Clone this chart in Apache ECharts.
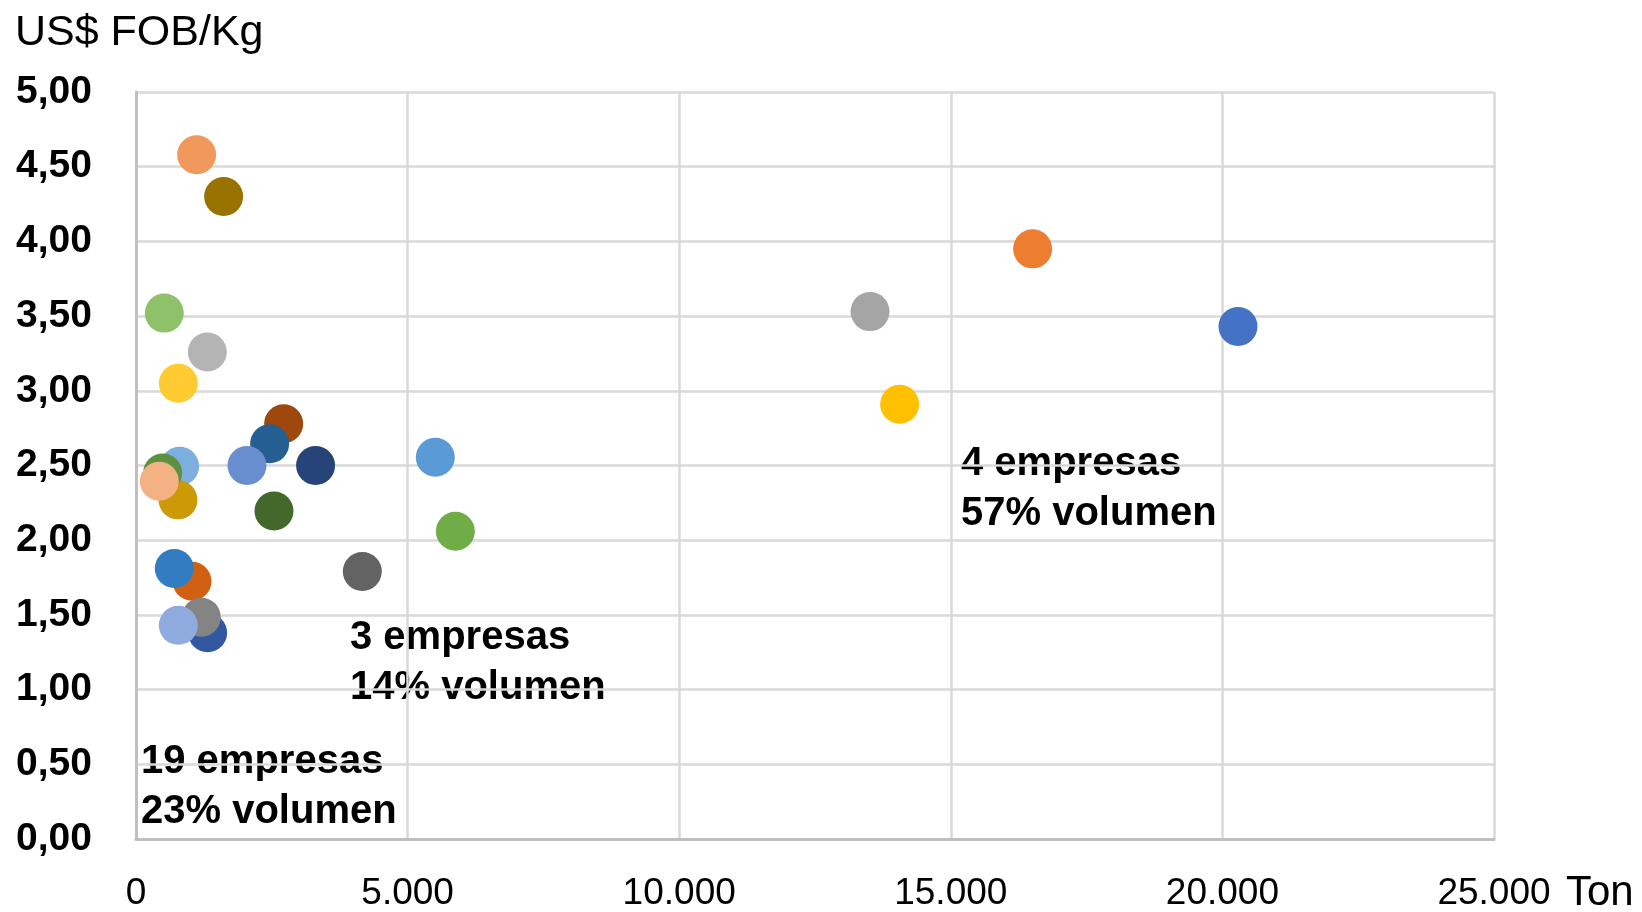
<!DOCTYPE html>
<html>
<head>
<meta charset="utf-8">
<script src="https://cdn.jsdelivr.net/npm/echarts@6/dist/echarts.min.js"></script>
<style>
html,body{margin:0;padding:0;background:#fff;}
#c{width:1642px;height:912px;}
</style>
</head>
<body>
<div id="c"></div>
<script>
// Volume (Ton) and price (US$ FOB/Kg) per company
const tonValues = [1116, 1613, 521, 1313, 779, 2718, 2460, 803, 773, 490, 429, 2043, 3306, 2540, 5510, 5879, 1031, 705, 4166, 1318, 1202, 779, 16506, 13513, 20287, 14058];
const priceValues = [4.58, 4.30, 3.52, 3.26, 3.05, 2.78, 2.645, 2.495, 2.27, 2.45, 2.395, 2.50, 2.50, 2.195, 2.555, 2.06, 1.725, 1.81, 1.79, 1.38, 1.485, 1.43, 3.95, 3.53, 3.43, 2.91];
const pointColors = ['#F1995D', '#997300', '#8FC16B', '#B4B4B4', '#FFCA32', '#9E480E', '#255E91', '#7CAFDD', '#CC9A05', '#5E913F', '#F4B183', '#698ED0', '#264478', '#43682B', '#5B9BD5', '#70AD47', '#D26012', '#327DC2', '#636363', '#3258A2', '#848484', '#8FAADC', '#ED7D31', '#A5A5A5', '#4472C4', '#FFC000'];
const annotations = [
  ['4 empresas', '57% volumen'],
  ['3 empresas', '14% volumen'],
  ['19 empresas', '23% volumen']
];
const yAxisTitle = 'US$ FOB/Kg';
const xAxisTitle = 'Ton';

const chart = echarts.init(document.getElementById('c'));
const font = '"Liberation Sans", Arial, sans-serif';
const data = tonValues.map((x, i) => ({
  value: [x, priceValues[i]],
  itemStyle: { color: pointColors[i] }
}));

const annPos = [[961, 489], [350, 663], [141, 787]];

chart.setOption({
  animation: false,
  grid: { left: 136, right: 148, top: 92, bottom: 67, containLabel: false },
  xAxis: {
    type: 'value', min: 0, max: 25000, interval: 5000,
    axisLine: { show: true, lineStyle: { color: '#BFBFBF', width: 3 } },
    axisTick: { show: false },
    splitLine: { show: true, lineStyle: { color: '#D9D9D9', width: 2.5 } },
    axisLabel: {
      color: '#000', fontFamily: font, fontSize: 37, lineHeight: 37, margin: 36,
      formatter: v => v === 0 ? '0' : v.toLocaleString('de-DE')
    }
  },
  yAxis: {
    type: 'value', min: 0, max: 5, interval: 0.5,
    axisLine: { show: true, lineStyle: { color: '#BFBFBF', width: 3 } },
    axisTick: { show: false },
    splitLine: { show: true, lineStyle: { color: '#D9D9D9', width: 2.5 } },
    axisLabel: {
      color: '#000', fontFamily: font, fontSize: 39, fontWeight: 'bold', margin: 44,
      formatter: v => v.toFixed(2).replace('.', ',')
    }
  },
  series: [{
    type: 'scatter',
    symbol: 'circle',
    symbolSize: 39,
    data: data,
    itemStyle: { opacity: 1 },
    emphasis: { disabled: true }
  }],
  graphic: [
    { type: 'text', x: 15, y: 33, style: { text: yAxisTitle, fontFamily: font, fontSize: 43, fill: '#000', verticalAlign: 'middle' } },
    { type: 'text', x: 1566, y: 893, style: { text: xAxisTitle, fontFamily: font, fontSize: 42, fill: '#000', verticalAlign: 'middle' } }
  ].concat(annotations.map((a, i) => ({
    type: 'text', x: annPos[i][0], y: annPos[i][1],
    style: { text: a.join('\n'), fontFamily: font, fontSize: 40, fontWeight: 'bold', lineHeight: 50, fill: '#000', verticalAlign: 'middle' }
  })))
});
</script>
</body>
</html>
